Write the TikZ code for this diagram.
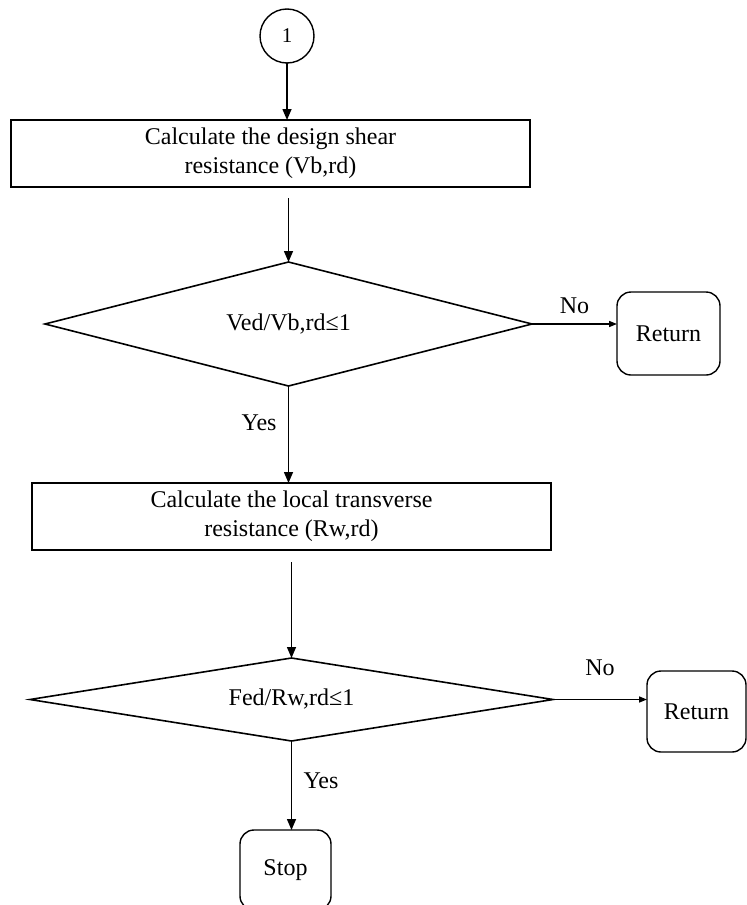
\documentclass[tikz,border=0pt]{standalone}
\usepackage{fontspec}
\setmainfont{Liberation Serif}
\usetikzlibrary{arrows.meta,positioning,shapes.geometric,calc}
\tikzset{
  every node/.style={font=\fontsize{24}{29}\selectfont, outer sep=0pt},
  conn/.style={circle, draw, line width=1.4pt, minimum size=54pt, inner sep=0pt, font=\fontsize{21}{24}\selectfont},
  procbox/.style={draw, line width=1.6pt, minimum width=519pt, minimum height=67pt, align=center, inner sep=0pt},
  decision/.style={diamond, draw, line width=1.6pt, aspect=4, inner sep=0pt},
  endbox/.style={draw, rounded corners=14pt, line width=1.4pt, inner sep=0pt},
  arrow/.style={-{Triangle[length=11pt,width=9pt]}, line width=1.5pt},
  sidearrow/.style={-{Triangle[length=8pt,width=6pt]}, line width=1.5pt},
  lbl/.style={inner sep=2pt},
}
\begin{document}
\begin{tikzpicture}
\useasboundingbox (0,0) rectangle (747pt,-905pt);
\node[conn] (c1) at (287pt,-36pt) {1};
\node[procbox, below=57pt of c1, xshift=-16.5pt] (b1) {Calculate the design shear\\ resistance (Vb,rd)};
\node[decision, minimum width=487pt, minimum height=124pt, below=75pt of b1, xshift=18pt] (d1) {Ved/Vb,rd≤1};
\node[endbox, minimum width=103pt, minimum height=83pt, right=85pt of d1, yshift=-9.5pt] (r1) {Return};
\node[procbox, below=97pt of d1, xshift=3pt] (b2) {Calculate the local transverse\\ resistance (Rw,rd)};
\node[decision, minimum width=523pt, minimum height=83pt, below=108pt of b2] (d2) {Fed/Rw,rd≤1};
\node[endbox, minimum width=99pt, minimum height=81pt, right=94pt of d2, yshift=-12pt] (r2) {Return};
\node[endbox, minimum width=91pt, minimum height=80pt, below=89pt of d2, xshift=-6pt] (stop) {Stop};
\draw[arrow](c1.south)--(c1.south |- b1.north);\draw[arrow]($(d1.north |- b1.south)+(0,-11pt)$)--(d1.north);\draw[sidearrow](d1.east)--node[lbl,above=8pt]{No}(d1.east -| r1.west);\draw[arrow](d1.south)--node[lbl,left=10pt,pos=0.38]{Yes}(d1.south |- b2.north);\draw[arrow]($(d2.north |- b2.south)+(0,-12pt)$)--(d2.north);\draw[sidearrow](d2.east)--node[lbl,above=22pt]{No}(d2.east -| r2.west);\draw[arrow](d2.south)--node[lbl,right=10pt,pos=0.45]{Yes}(d2.south |- stop.north);
\end{tikzpicture}
\end{document}
